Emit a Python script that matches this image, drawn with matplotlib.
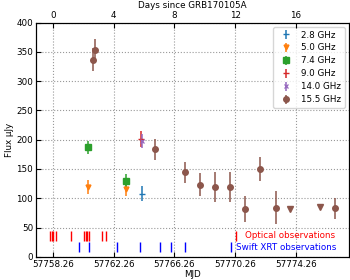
import numpy as np
import matplotlib.pyplot as plt

t0 = 57758.26

# radio detections: MJD, flux (uJy), error
mjd_28 = [57764.11]
flux_28 = [108]
err_28 = [13]

mjd_50 = [57760.59, 57763.07]
flux_50 = [120, 115]
err_50 = [12, 12]

mjd_74 = [57760.59, 57763.07]
flux_74 = [187, 130]
err_74 = [11, 11]

mjd_90 = [57764.08]
flux_90 = [201]
err_90 = [14]

mjd_140 = [57764.11]
flux_140 = [197]
err_140 = [12]

mjd_155 = [57760.88, 57761.03, 57764.98, 57766.94, 57767.95, 57768.96,
           57769.95, 57770.94, 57771.91, 57772.94, 57776.85]
flux_155 = [337, 354, 184, 144, 123, 119, 119, 82, 150, 84, 83]
err_155 = [19, 18, 18, 18, 20, 26, 26, 22, 20, 28, 18]

# 15.5 GHz upper limits
mjd_155_ul = [57773.86, 57775.84]
flux_155_ul = [82, 85]

# observation epochs
mjd_optical = [57758.06, 57758.17, 57758.28, 57758.44, 57759.45, 57760.30,
               57760.42, 57760.52, 57760.63, 57761.51, 57761.73, 57770.30]
mjd_xrt = [57759.99, 57760.63, 57762.49, 57764.01, 57765.28, 57766.06,
           57766.99, 57769.96]

plt.rcParams['font.size'] = 6.3

fig = plt.figure(figsize=(3.5, 2.8), dpi=100)
ax = fig.add_axes([0.103, 0.083, 0.895, 0.836])

kw = dict(ls='none', elinewidth=1.1, capsize=0)
ax.errorbar(mjd_28, flux_28, yerr=err_28, marker='_', ms=5, mew=1, color='C0', label='2.8 GHz', **kw)
ax.errorbar(mjd_50, flux_50, yerr=err_50, marker='v', ms=3.5, color='C1', label='5.0 GHz', **kw)
ax.errorbar(mjd_74, flux_74, yerr=err_74, marker='s', ms=3.8, color='C2', label='7.4 GHz', **kw)
ax.errorbar(mjd_90, flux_90, yerr=err_90, marker='_', ms=5, mew=1, color='C3', label='9.0 GHz', **kw)
ax.errorbar(mjd_140, flux_140, yerr=err_140, marker='x', ms=3.5, mew=0.9, color='C4', label='14.0 GHz', **kw)
ax.errorbar(mjd_155, flux_155, yerr=err_155, marker='o', ms=4, color='C5', label='15.5 GHz', **kw)
ax.plot(mjd_155_ul, flux_155_ul, 'v', ms=4, color='C5')

ax.plot(mjd_optical, np.full(len(mjd_optical), 36), '|', ms=7, mew=1.0, color='red')
ax.plot(mjd_xrt, np.full(len(mjd_xrt), 16), '|', ms=7, mew=1.0, color='blue')
ax.text(57770.92, 36, 'Optical observations', color='red', va='center')
ax.text(57770.32, 16, 'Swift XRT observations', color='blue', va='center')

xmin, xmax = 57757.14, 57777.79
ax.set_xlim(xmin, xmax)
ax.set_ylim(0, 400)
ax.set_xticks(t0 + np.arange(0, 20, 4))
ax.set_xticklabels([f'{t0 + d:.2f}' for d in range(0, 20, 4)])
ax.set_yticks(np.arange(0, 401, 50))
ax.set_xlabel('MJD', labelpad=1)
ax.set_ylabel('Flux μJy', labelpad=2)
ax.tick_params(direction='in', pad=2)
ax.grid(True, ls=':', color='0.6', lw=0.8)

top = ax.twiny()
top.set_xlim(xmin - t0, xmax - t0)
top.set_xticks(np.arange(0, 20, 4))
top.tick_params(direction='in', pad=2)
top.set_xlabel('Days since GRB170105A', labelpad=2)

ax.legend(loc='upper right', handletextpad=0.8, borderpad=0.4, labelspacing=0.45)

fig.savefig('out.png')
